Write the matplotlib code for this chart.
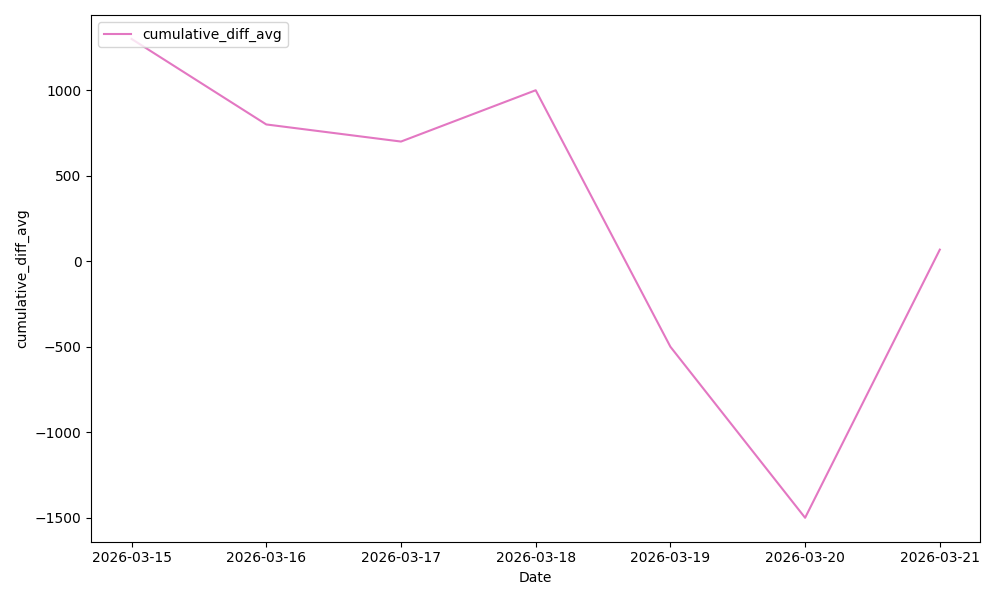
import matplotlib
matplotlib.use("Agg")
import matplotlib.pyplot as plt
import pandas as pd

dates = ["2026-03-15", "2026-03-16", "2026-03-17", "2026-03-18",
         "2026-03-19", "2026-03-20", "2026-03-21"]
cumulative_diff_avg = [1300, 800, 700, 1000, -500, -1500, 68]

x = pd.to_datetime(dates)

fig, ax = plt.subplots(figsize=(10, 6), dpi=100)
ax.plot(x, cumulative_diff_avg, color="#e377c2", label="cumulative_diff_avg")
ax.set_xticks(x)
ax.set_xticklabels(dates)
ax.set_xlabel("Date")
ax.set_ylabel("cumulative_diff_avg")
ax.legend(loc="upper left")
fig.tight_layout()
fig.savefig("out.png")
